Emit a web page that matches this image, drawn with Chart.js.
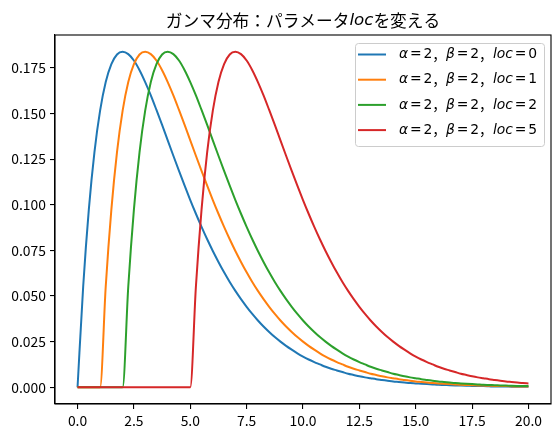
<!DOCTYPE html>
<html>
<head>
<meta charset="utf-8">
<script src="https://cdn.jsdelivr.net/npm/chart.js@4/dist/chart.umd.min.js"></script>
<style>
  html, body { margin: 0; padding: 0; background: #fff; }
  canvas { display: block; }
</style>
</head>
<body>
<canvas id="gamma" width="560" height="437"></canvas>
<script>
// ----------------- DATA -----------------
const xValues = [
  0, 0.25, 0.5, 0.75, 1, 1.25, 1.5, 1.75, 2, 2.25,
  2.5, 2.75, 3, 3.25, 3.5, 3.75, 4, 4.25, 4.5, 4.75,
  5, 5.25, 5.5, 5.75, 6, 6.25, 6.5, 6.75, 7, 7.25,
  7.5, 7.75, 8, 8.25, 8.5, 8.75, 9, 9.25, 9.5, 9.75,
  10, 10.25, 10.5, 10.75, 11, 11.25, 11.5, 11.75, 12, 12.25,
  12.5, 12.75, 13, 13.25, 13.5, 13.75, 14, 14.25, 14.5, 14.75,
  15, 15.25, 15.5, 15.75, 16, 16.25, 16.5, 16.75, 17, 17.25,
  17.5, 17.75, 18, 18.25, 18.5, 18.75, 19, 19.25, 19.5, 19.75,
  20
];

const loc0Values = [
  0, 0.0552, 0.0974, 0.1289, 0.1516, 0.1673, 0.1771, 0.1824, 0.1839, 0.1826,
  0.1791, 0.1738, 0.1673, 0.1600, 0.1520, 0.1438, 0.1353, 0.1269, 0.1186, 0.1105,
  0.1026, 0.0951, 0.0879, 0.0811, 0.0747, 0.0687, 0.0630, 0.0577, 0.0528, 0.0483,
  0.0441, 0.0402, 0.0366, 0.0333, 0.0303, 0.0275, 0.0250, 0.0227, 0.0206, 0.0186,
  0.0168, 0.0152, 0.0138, 0.0125, 0.0112, 0.0101, 0.0092, 0.0083, 0.0074, 0.0067,
  0.0060, 0.0054, 0.0049, 0.0044, 0.0040, 0.0036, 0.0032, 0.0029, 0.0026, 0.0023,
  0.0021, 0.0019, 0.0017, 0.0015, 0.0013, 0.0012, 0.0011, 0.0010, 0.0009, 0.0008,
  0.0007, 0.0006, 0.0006, 0.0005, 0.0004, 0.0004, 0.0004, 0.0003, 0.0003, 0.0002,
  0.0002
];

const loc1Values = [
  0, 0, 0, 0, 0, 0.0552, 0.0974, 0.1289, 0.1516, 0.1673,
  0.1771, 0.1824, 0.1839, 0.1826, 0.1791, 0.1738, 0.1673, 0.1600, 0.1520, 0.1438,
  0.1353, 0.1269, 0.1186, 0.1105, 0.1026, 0.0951, 0.0879, 0.0811, 0.0747, 0.0687,
  0.0630, 0.0577, 0.0528, 0.0483, 0.0441, 0.0402, 0.0366, 0.0333, 0.0303, 0.0275,
  0.0250, 0.0227, 0.0206, 0.0186, 0.0168, 0.0152, 0.0138, 0.0125, 0.0112, 0.0101,
  0.0092, 0.0083, 0.0074, 0.0067, 0.0060, 0.0054, 0.0049, 0.0044, 0.0040, 0.0036,
  0.0032, 0.0029, 0.0026, 0.0023, 0.0021, 0.0019, 0.0017, 0.0015, 0.0013, 0.0012,
  0.0011, 0.0010, 0.0009, 0.0008, 0.0007, 0.0006, 0.0006, 0.0005, 0.0004, 0.0004,
  0.0004
];

const loc2Values = [
  0, 0, 0, 0, 0, 0, 0, 0, 0, 0.0552,
  0.0974, 0.1289, 0.1516, 0.1673, 0.1771, 0.1824, 0.1839, 0.1826, 0.1791, 0.1738,
  0.1673, 0.1600, 0.1520, 0.1438, 0.1353, 0.1269, 0.1186, 0.1105, 0.1026, 0.0951,
  0.0879, 0.0811, 0.0747, 0.0687, 0.0630, 0.0577, 0.0528, 0.0483, 0.0441, 0.0402,
  0.0366, 0.0333, 0.0303, 0.0275, 0.0250, 0.0227, 0.0206, 0.0186, 0.0168, 0.0152,
  0.0138, 0.0125, 0.0112, 0.0101, 0.0092, 0.0083, 0.0074, 0.0067, 0.0060, 0.0054,
  0.0049, 0.0044, 0.0040, 0.0036, 0.0032, 0.0029, 0.0026, 0.0023, 0.0021, 0.0019,
  0.0017, 0.0015, 0.0013, 0.0012, 0.0011, 0.0010, 0.0009, 0.0008, 0.0007, 0.0006,
  0.0006
];

const loc5Values = [
  0, 0, 0, 0, 0, 0, 0, 0, 0, 0,
  0, 0, 0, 0, 0, 0, 0, 0, 0, 0,
  0, 0.0552, 0.0974, 0.1289, 0.1516, 0.1673, 0.1771, 0.1824, 0.1839, 0.1826,
  0.1791, 0.1738, 0.1673, 0.1600, 0.1520, 0.1438, 0.1353, 0.1269, 0.1186, 0.1105,
  0.1026, 0.0951, 0.0879, 0.0811, 0.0747, 0.0687, 0.0630, 0.0577, 0.0528, 0.0483,
  0.0441, 0.0402, 0.0366, 0.0333, 0.0303, 0.0275, 0.0250, 0.0227, 0.0206, 0.0186,
  0.0168, 0.0152, 0.0138, 0.0125, 0.0112, 0.0101, 0.0092, 0.0083, 0.0074, 0.0067,
  0.0060, 0.0054, 0.0049, 0.0044, 0.0040, 0.0036, 0.0032, 0.0029, 0.0026, 0.0023,
  0.0021
];

const alphaLabels = ["2", "2", "2", "2"];
const betaLabels = ["2", "2", "2", "2"];
const locLabels = ["0", "1", "2", "5"];
const seriesColors = ["#1f77b4", "#ff7f0e", "#2ca02c", "#d62728"];

const xTicks = [0, 2.5, 5, 7.5, 10, 12.5, 15, 17.5, 20];
const yTicks = [0, 0.025, 0.05, 0.075, 0.1, 0.125, 0.15, 0.175];

const titleParts = [
  { text: "ガンマ分布：パラメータ" },
  { text: "loc", math: true },
  { text: "を変える" }
];

// ----------------- FONTS -----------------
const JP_FONT = '"Noto Sans CJK JP", "Noto Sans", sans-serif';
const MATH_FONT = '"DejaVu Sans", sans-serif';

// ----------------- HELPERS -----------------
// draws a run of text pieces (japanese / math italic / math upright) side by side
function drawParts(ctx, parts, x, y, size, align) {
  const fontFor = p => p.math ? `italic ${size}px ${MATH_FONT}` :
    (p.upright ? `${size}px ${MATH_FONT}` : `${size}px ${JP_FONT}`);
  const widthOf = p => {
    ctx.font = fontFor(p);
    return ctx.measureText(p.text).width + (p.gap || 0) * 2;
  };
  const total = parts.reduce((sum, p) => sum + widthOf(p), 0);
  let cx = align === "center" ? x - total / 2 : x;
  ctx.textBaseline = "middle";
  ctx.textAlign = "left";
  parts.forEach(p => {
    const w = widthOf(p);
    ctx.font = fontFor(p);
    ctx.fillText(p.text, cx + (p.gap || 0), y);
    cx += w;
  });
}

function legendParts(i) {
  return [
    { text: "α", math: true },
    { text: "=", upright: true, gap: 1.8 },
    { text: alphaLabels[i], upright: true },
    { text: "，" },
    { text: "β", math: true },
    { text: "=", upright: true, gap: 1.8 },
    { text: betaLabels[i], upright: true },
    { text: "，" },
    { text: "loc", math: true },
    { text: "=", upright: true, gap: 1.8 },
    { text: locLabels[i], upright: true }
  ];
}

// ----------------- PLUGINS -----------------
const framePlugin = {
  id: "frame",
  afterDatasetsDraw(chart) {
    const { ctx, chartArea: a } = chart;
    ctx.save();
    ctx.strokeStyle = "#000";
    ctx.lineWidth = 1.1;
    ctx.strokeRect(a.left, a.top, a.right - a.left, a.bottom - a.top);
    ctx.restore();
  }
};

const titlePlugin = {
  id: "mixedTitle",
  afterDraw(chart) {
    const { ctx, chartArea: a } = chart;
    ctx.save();
    ctx.fillStyle = "#000";
    drawParts(ctx, titleParts, (a.left + a.right) / 2, 21, 16.7, "center");
    ctx.restore();
  }
};

const legendPlugin = {
  id: "mplLegend",
  afterDraw(chart) {
    const { ctx } = chart;
    const box = { x: 355, y: 43, w: 189, h: 103 };
    ctx.save();
    ctx.beginPath();
    ctx.roundRect(box.x + 0.5, box.y + 0.5, box.w, box.h, 3);
    ctx.fillStyle = "rgba(255,255,255,0.8)";
    ctx.fill();
    ctx.strokeStyle = "#cccccc";
    ctx.lineWidth = 1;
    ctx.stroke();
    chart.data.datasets.forEach((ds, i) => {
      const y = 54.5 + 25.2 * i;
      ctx.beginPath();
      ctx.moveTo(358, y);
      ctx.lineTo(386, y);
      ctx.strokeStyle = ds.borderColor;
      ctx.lineWidth = 2;
      ctx.stroke();
      ctx.fillStyle = "#000";
      drawParts(ctx, legendParts(i), 399, y, 13.9, "left");
    });
    ctx.restore();
  }
};

// ----------------- CHART -----------------
const seriesValues = [loc0Values, loc1Values, loc2Values, loc5Values];

const datasets = seriesValues.map((vals, i) => ({
  label: `α=${alphaLabels[i]}, β=${betaLabels[i]}, loc=${locLabels[i]}`,
  data: xValues.map((x, k) => ({ x, y: vals[k] })),
  borderColor: seriesColors[i],
  backgroundColor: seriesColors[i],
  borderWidth: 2,
  pointRadius: 0,
  cubicInterpolationMode: "monotone",
  fill: false,
  order: seriesValues.length - i
}));

const tickFont = { family: JP_FONT, size: 13.9 };

new Chart(document.getElementById("gamma").getContext("2d"), {
  type: "line",
  data: { datasets },
  options: {
    responsive: false,
    animation: false,
    layout: { padding: { top: 35, right: 9, left: 0, bottom: 0 } },
    plugins: {
      legend: { display: false },
      title: { display: false },
      tooltip: { enabled: false }
    },
    scales: {
      x: {
        type: "linear",
        min: -1,
        max: 21,
        afterBuildTicks: s => { s.ticks = xTicks.map(v => ({ value: v })); },
        afterFit: s => { s.height = 33; },
        ticks: {
          color: "#000",
          font: tickFont,
          padding: 3,
          maxRotation: 0,
          autoSkip: false,
          callback: v => v.toFixed(1)
        },
        grid: { drawOnChartArea: false, drawTicks: true, tickLength: 5, color: "#000", lineWidth: 1.1 },
        border: { display: true, color: "#000", width: 1.1 }
      },
      y: {
        type: "linear",
        min: -0.0092,
        max: 0.1931,
        afterBuildTicks: s => { s.ticks = yTicks.map(v => ({ value: v })); },
        afterFit: s => { s.width = 55; },
        ticks: {
          color: "#000",
          font: tickFont,
          padding: 4,
          autoSkip: false,
          callback: v => v.toFixed(3)
        },
        grid: { drawOnChartArea: false, drawTicks: true, tickLength: 5, color: "#000", lineWidth: 1.1 },
        border: { display: true, color: "#000", width: 1.1 }
      }
    }
  },
  plugins: [framePlugin, titlePlugin, legendPlugin]
});
</script>
</body>
</html>
